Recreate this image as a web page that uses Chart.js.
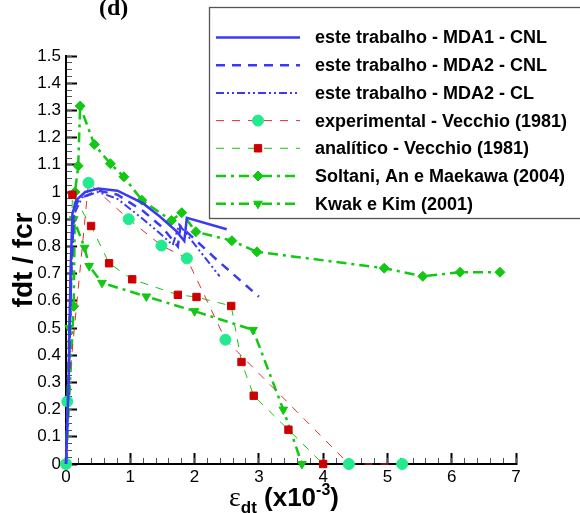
<!DOCTYPE html>
<html>
<head>
<meta charset="utf-8">
<script src="https://cdn.jsdelivr.net/npm/chart.js@4.4.0/dist/chart.umd.min.js"></script>
<style>
html, body { margin: 0; padding: 0; background: #fff; }
#wrap { position: relative; width: 580px; height: 513px; overflow: hidden; }
#plot { position: absolute; left: 0; top: 0; }
.lbl { position: absolute; color: #000; white-space: nowrap; font-family: "Liberation Sans", Arial, sans-serif; font-weight: bold; line-height: 1; }
#panel { left: 99px; top: -5px; font-family: "Liberation Serif", "Times New Roman", serif; font-size: 24px; }
#xtitle { left: 229px; top: 483px; font-size: 26px; }
#xtitle .eps { font-family: "Liberation Serif", serif; font-weight: normal; font-size: 28px; }
#xtitle .sub { font-size: 17px; position: relative; top: 7px; }
#xtitle .sup { font-size: 16px; position: relative; top: -11px; }
</style>
</head>
<body>
<div id="wrap">
  <canvas id="plot" width="580" height="513"></canvas>
  <div class="lbl" id="panel">(d)</div>
  <div class="lbl" id="xtitle"><span class="eps">ε</span><span class="sub">dt</span> (x10<span class="sup">-3</span>)</div>
</div>
<script>
// tick labels
const xTickLabels = ["0", "1", "2", "3", "4", "5", "6", "7"];
const yTickLabels = ["0", "0.1", "0.2", "0.3", "0.4", "0.5", "0.6", "0.7", "0.8", "0.9", "1", "1.1", "1.2", "1.3", "1.4", "1.5"];

const seriesNames = [
  "este trabalho - MDA1 - CNL",
  "este trabalho - MDA2 - CNL",
  "este trabalho - MDA2 - CL",
  "experimental - Vecchio (1981)",
  "analítico - Vecchio (1981)",
  "Soltani, An e Maekawa (2004)",
  "Kwak e Kim (2001)"
];

// este trabalho - MDA1 - CNL
const mda1X = [0, 0.04, 0.07, 0.1, 0.16, 0.3, 0.5, 0.8, 1.2, 1.46, 1.72, 1.84, 1.88, 2.5];
const mda1Y = [0, 0.3, 0.7, 0.92, 0.97, 1.0, 1.013, 1.005, 0.958, 0.91, 0.855, 0.82, 0.905, 0.863];
// este trabalho - MDA2 - CNL
const mda2cnlX = [0, 0.04, 0.08, 0.12, 0.2, 0.5, 0.8, 1.2, 1.5, 1.74, 1.78, 2.35, 3.0];
const mda2cnlY = [0, 0.3, 0.7, 0.93, 0.975, 1.005, 0.99, 0.93, 0.87, 0.8, 0.875, 0.75, 0.615];
// este trabalho - MDA2 - CL
const mda2clX = [0, 0.05, 0.09, 0.13, 0.25, 0.5, 0.8, 1.2, 1.45, 1.66, 1.76, 2.39];
const mda2clY = [0, 0.35, 0.75, 0.92, 0.98, 1.0, 0.975, 0.9, 0.85, 0.805, 0.88, 0.69];
// experimental - Vecchio (1981)
const expX = [0, 0.02, 0.35, 0.975, 1.485, 1.88, 2.48, 4.4, 5.23];
const expY = [0, 0.23, 1.034, 0.9, 0.803, 0.756, 0.457, 0, 0];
// analítico - Vecchio (1981)
const anaX = [0, 0.1, 0.39, 0.67, 1.03, 1.74, 2.03, 2.57, 2.73, 2.92, 3.46, 4.0];
const anaY = [0, 0.99, 0.875, 0.738, 0.679, 0.622, 0.614, 0.581, 0.375, 0.251, 0.126, 0];
// Soltani, An e Maekawa (2004)
const soltX = [0, 0.12, 0.14, 0.19, 0.22, 0.44, 0.69, 0.9, 1.18, 1.64, 1.8, 2.02, 2.58, 2.97, 4.95, 5.55, 6.13, 6.75];
const soltY = [0, 0.58, 1.0, 1.096, 1.316, 1.175, 1.104, 1.056, 0.97, 0.895, 0.924, 0.854, 0.821, 0.78, 0.72, 0.69, 0.705, 0.705];
// Kwak e Kim (2001)
const kwakX = [0, 0.05, 0.12, 0.29, 0.36, 0.56, 1.25, 2.0, 2.91, 3.38, 3.67];
const kwakY = [0, 0.5, 0.9, 0.795, 0.728, 0.666, 0.616, 0.562, 0.493, 0.2, 0];

const pts = (xs, ys) => xs.map((v, i) => ({ x: v, y: ys[i] }));

const BLUE = "#3a3af5", GREEN = "#12c812", RED = "#e03030", AQUA = "#22ea8e", DKRED = "#cc0000";

function serie(i, xs, ys, st) {
  return Object.assign({
    label: seriesNames[i], data: pts(xs, ys), showLine: true, fill: false, tension: 0,
    clip: false, pointRadius: 0, pointHoverRadius: 0, borderWidth: 2
  }, st);
}

const datasets = [
  serie(0, mda1X, mda1Y, { borderColor: BLUE, borderWidth: 2.5 }),
  serie(1, mda2cnlX, mda2cnlY, { borderColor: BLUE, borderWidth: 2.5, borderDash: [9, 7] }),
  serie(2, mda2clX, mda2clY, { borderColor: BLUE, borderWidth: 2, borderDash: [8, 3, 2, 3, 2, 3] }),
  serie(3, expX, expY, { borderColor: RED, borderWidth: 1, borderDash: [8, 8], pointRadius: 5.5, pointStyle: "circle",
    pointBackgroundColor: AQUA, pointBorderColor: AQUA, pointBorderWidth: 1 }),
  serie(4, anaX, anaY, { borderColor: GREEN, borderWidth: 1, borderDash: [8, 8], pointRadius: 5.2, pointStyle: "rect",
    pointBackgroundColor: DKRED, pointBorderColor: DKRED, pointBorderWidth: 1 }),
  serie(5, soltX, soltY, { borderColor: GREEN, borderWidth: 2.5, borderDash: [10, 5, 3, 5], pointRadius: 5, pointStyle: "rectRot",
    pointBackgroundColor: GREEN, pointBorderColor: GREEN, pointBorderWidth: 1 }),
  serie(6, kwakX, kwakY, { borderColor: GREEN, borderWidth: 2.5, borderDash: [10, 5, 3, 5], pointRadius: 5, pointStyle: "triangle",
    pointRotation: 180, pointBackgroundColor: GREEN, pointBorderColor: GREEN, pointBorderWidth: 1 })
];

// legenda em caixa, desenhada a partir dos estilos dos datasets
function drawLegendBox(chart) {
  const ctx = chart.ctx;
  ctx.save();
  ctx.fillStyle = "#fff";
  ctx.fillRect(209.5, 7.5, 380, 211);
  ctx.strokeStyle = "#555"; ctx.lineWidth = 1.3;
  ctx.strokeRect(209.5, 7.5, 380, 211);
  ctx.font = "bold 18px 'Liberation Sans', Arial, sans-serif";
  ctx.textBaseline = "middle";
  chart.data.datasets.forEach((ds, i) => {
    const yy = 37.5 + i * 27.7;
    ctx.setLineDash(ds.borderDash || []);
    ctx.strokeStyle = ds.borderColor; ctx.lineWidth = ds.borderWidth;
    ctx.beginPath(); ctx.moveTo(216, yy); ctx.lineTo(300, yy); ctx.stroke();
    ctx.setLineDash([]);
    if (ds.pointRadius > 0) {
      ctx.fillStyle = ds.pointBackgroundColor; ctx.strokeStyle = ds.pointBorderColor; ctx.lineWidth = 1;
      Chart.helpers.drawPoint(ctx, { pointStyle: ds.pointStyle, radius: ds.pointRadius, rotation: ds.pointRotation || 0, borderWidth: 1 }, 258, yy);
    }
    ctx.fillStyle = "#000";
    ctx.fillText(ds.label, 315, yy + 1);
  });
  ctx.restore();
}

const tickFont = { family: "'Liberation Sans', Arial, sans-serif", size: 17 };

new Chart(document.getElementById("plot"), {
  type: "scatter",
  data: { datasets: datasets },
  plugins: [{ id: "legendBox", afterDraw(chart) { drawLegendBox(chart); } }],
  options: {
    responsive: false,
    animation: false,
    layout: { padding: { left: 0, top: 56, right: 64, bottom: 0 } },
    plugins: { legend: { display: false }, tooltip: { enabled: false } },
    scales: {
      // eixos principais: ticks maiores para dentro (tickLength negativo)
      x: {
        type: "linear", min: 0, max: 7, weight: 0,
        afterFit: s => { s.height = 49; },
        grid: { drawOnChartArea: false, drawTicks: true, tickLength: -11, tickWidth: 2, tickColor: "#000" },
        border: { display: true, color: "#000", width: 2 },
        ticks: { stepSize: 1, padding: 14, color: "#000", font: tickFont, autoSkip: false, maxRotation: 0,
          callback: (v, i) => xTickLabels[i] }
      },
      y: {
        type: "linear", min: 0, max: 1.5, weight: 0,
        afterFit: s => { s.width = 66; },
        grid: { drawOnChartArea: false, drawTicks: true, tickLength: -11, tickWidth: 2, tickColor: "#000" },
        border: { display: true, color: "#000", width: 2 },
        ticks: { stepSize: 0.1, padding: 16, color: "#000", font: tickFont, autoSkip: false,
          callback: (v, i) => yTickLabels[i] },
        title: { display: true, text: "fdt / fcr", color: "#000", padding: { top: 7, bottom: 0 },
          font: { family: "'Liberation Sans', Arial, sans-serif", size: 28, weight: "bold" } }
      },
      // eixos auxiliares sem espessura, so para os ticks menores
      xMinor: {
        axis: "x", type: "linear", position: "bottom", min: 0, max: 7, weight: -10,
        afterFit: s => { s.height = 0; },
        grid: { drawOnChartArea: false, drawTicks: true, tickLength: -6, tickWidth: 1, tickColor: "#555" },
        border: { display: false },
        ticks: { stepSize: 0.2, display: false, autoSkip: false }
      },
      yMinor: {
        axis: "y", type: "linear", position: "left", min: 0, max: 1.5, weight: -10,
        afterFit: s => { s.width = 0; },
        grid: { drawOnChartArea: false, drawTicks: true, tickLength: -6, tickWidth: 1, tickColor: "#555" },
        border: { display: false },
        ticks: { stepSize: 0.025, display: false, autoSkip: false }
      }
    }
  }
});
</script>
</body>
</html>
